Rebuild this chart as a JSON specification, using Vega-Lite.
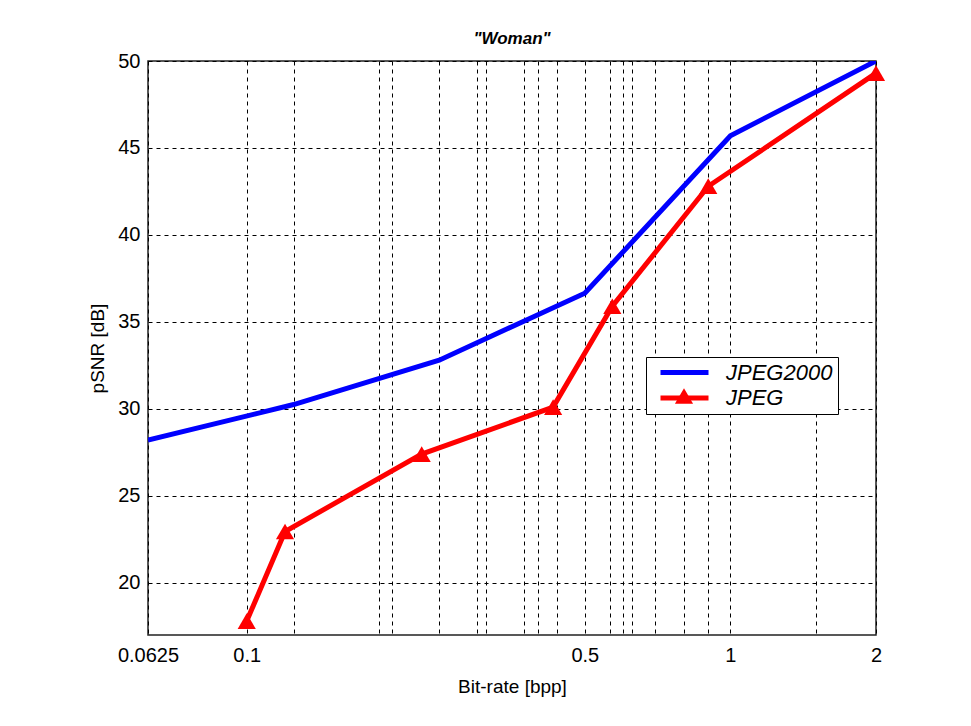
{
  "$schema": "https://vega.github.io/schema/vega-lite/v6.json",
  "autosize": "none",
  "padding": {"left": 148, "top": 61, "right": 95, "bottom": 91},
  "width": 728,
  "height": 574,
  "background": "white",
  "config": {
    "font": "Liberation Sans",
    "view": {"stroke": "#222222", "strokeWidth": 1.5}
  },
  "title": {
    "text": "\"Woman\"",
    "fontSize": 17,
    "fontStyle": "italic",
    "fontWeight": "bold",
    "color": "black",
    "offset": 3
  },
  "data": {
    "values": [
      {"series": "JPEG2000", "rate": 0.0625, "psnr": 28.2},
      {"series": "JPEG2000", "rate": 0.125, "psnr": 30.25},
      {"series": "JPEG2000", "rate": 0.25, "psnr": 32.8},
      {"series": "JPEG2000", "rate": 0.5, "psnr": 36.65},
      {"series": "JPEG2000", "rate": 1, "psnr": 45.7},
      {"series": "JPEG2000", "rate": 2, "psnr": 50},
      {"series": "JPEG", "rate": 0.1, "psnr": 17.8},
      {"series": "JPEG", "rate": 0.12, "psnr": 22.95},
      {"series": "JPEG", "rate": 0.23, "psnr": 27.4},
      {"series": "JPEG", "rate": 0.43, "psnr": 30.1},
      {"series": "JPEG", "rate": 0.57, "psnr": 35.9},
      {"series": "JPEG", "rate": 0.9, "psnr": 42.8},
      {"series": "JPEG", "rate": 2, "psnr": 49.3}
    ]
  },
  "encoding": {
    "x": {
      "field": "rate",
      "type": "quantitative",
      "scale": {"type": "log", "base": 2, "domain": [0.0625, 2], "nice": false},
      "axis": {
        "values": [0.0625, 0.1, 0.125, 0.1875, 0.2, 0.25, 0.3, 0.3125, 0.375, 0.4, 0.4375, 0.5, 0.5625, 0.6, 0.625, 0.7, 0.8, 0.9, 1, 1.5, 2],
        "labelExpr": "indexof([0.0625, 0.1, 0.5, 1, 2], datum.value) >= 0 ? format(datum.value, '~g') : ''",
        "grid": true,
        "gridColor": "black",
        "gridDash": [4, 4],
        "gridWidth": 1,
        "gridOpacity": 1,
        "ticks": false,
        "tickSize": 0,
        "domain": false,
        "labelFontSize": 20,
        "labelColor": "black",
        "labelPadding": 10,
        "labelOverlap": false,
        "labelFlush": false,
        "labelBound": false,
        "title": "Bit-rate [bpp]",
        "titleFontSize": 19,
        "titleFontWeight": "normal",
        "titleColor": "black",
        "titlePadding": 12
      }
    },
    "y": {
      "field": "psnr",
      "type": "quantitative",
      "scale": {"domain": [17, 50], "nice": false, "zero": false},
      "axis": {
        "values": [20, 25, 30, 35, 40, 45, 50],
        "grid": true,
        "gridColor": "black",
        "gridDash": [4, 4],
        "gridWidth": 1,
        "gridOpacity": 1,
        "ticks": false,
        "tickSize": 0,
        "domain": false,
        "labelFontSize": 20,
        "labelColor": "black",
        "labelPadding": 8,
        "labelOverlap": false,
        "labelFlush": false,
        "labelBound": false,
        "title": "pSNR [dB]",
        "titleFontSize": 19,
        "titleFontWeight": "normal",
        "titleColor": "black",
        "titlePadding": 10
      }
    }
  },
  "layer": [
    {
      "mark": {"type": "line", "strokeWidth": 5, "clip": true},
      "encoding": {
        "color": {
          "field": "series",
          "type": "nominal",
          "scale": {"domain": ["JPEG2000", "JPEG"], "range": ["#0000ff", "#ff0000"]},
          "legend": {
            "orient": "none",
            "legendX": 498,
            "legendY": 296,
            "title": null,
            "symbolType": "stroke",
            "symbolSize": 2304,
            "symbolStrokeWidth": 5,
            "symbolOffset": 7,
            "clipHeight": 21,
            "labelFont": "Liberation Sans",
            "labelFontSize": 22,
            "labelFontStyle": "italic",
            "labelColor": "black",
            "labelOffset": 15,
            "labelLimit": 400,
            "labelExpr": "datum.label + '    '",
            "padding": 5,
            "rowPadding": 2.5,
            "strokeColor": "black",
            "fillColor": "white"
          }
        }
      }
    },
    {
      "transform": [{"filter": "datum.series === 'JPEG'"}],
      "mark": {"type": "point", "filled": true, "size": 330, "opacity": 1, "color": "#ff0000", "clip": false},
      "encoding": {
        "shape": {
          "field": "series",
          "type": "nominal",
          "scale": {"domain": ["JPEG"], "range": ["triangle-up"]},
          "legend": {
            "orient": "none",
            "legendX": 498,
            "legendY": 319.5,
            "title": null,
            "symbolSize": 330,
            "symbolFillColor": "#ff0000",
            "symbolStrokeColor": "#ff0000",
            "symbolStrokeWidth": 0,
            "symbolOffset": 22,
            "clipHeight": 21,
            "labelExpr": "''",
            "labelFont": "Liberation Sans",
            "labelFontSize": 22,
            "labelOpacity": 0,
            "labelOffset": 15,
            "padding": 5,
            "rowPadding": 2.5
          }
        }
      }
    }
  ]
}
